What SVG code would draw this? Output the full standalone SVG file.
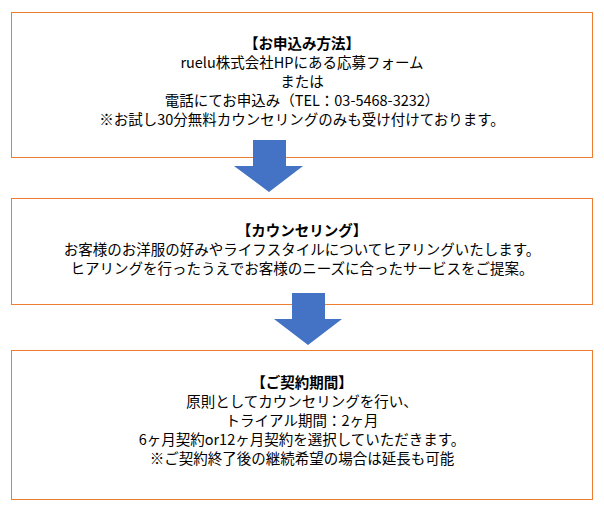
<svg xmlns="http://www.w3.org/2000/svg" width="604" height="518" viewBox="0 0 604 518">
<style>
.box{fill:#fff;stroke:#ED7D31;stroke-width:1}
.arr{fill:#4472C4}
text{font-family:"Noto Sans CJK JP","Noto Sans",sans-serif;font-size:14.5px;text-anchor:middle;fill:#000}
.b{font-weight:bold}
</style>
<g id="n1"><rect class="box" x="11.5" y="12.5" width="581" height="145"/>
<text x="302" y="49" class="b">【お申込み方法】</text>
<text x="302" y="68">ruelu株式会社HPにある応募フォーム</text>
<text x="302" y="87">または</text>
<text x="302" y="106">電話にてお申込み（TEL：03-5468-3232）</text>
<text x="302" y="125">※お試し30分無料カウンセリングのみも受け付けております。</text></g>
<g id="n2"><rect class="box" x="11.5" y="198.5" width="581" height="106"/>
<text x="302" y="236" class="b">【カウンセリング】</text>
<text x="302" y="255">お客様のお洋服の好みやライフスタイルについてヒアリングいたします。</text>
<text x="302" y="274">ヒアリングを行ったうえでお客様のニーズに合ったサービスをご提案。</text></g>
<g id="n3"><rect class="box" x="11.5" y="350.5" width="581" height="149"/>
<text x="302" y="388" class="b">【ご契約期間】</text>
<text x="302" y="407">原則としてカウンセリングを行い、</text>
<text x="302" y="426">トライアル期間：2ヶ月</text>
<text x="302" y="445">6ヶ月契約or12ヶ月契約を選択していただきます。</text>
<text x="302" y="464">※ご契約終了後の継続希望の場合は延長も可能</text></g>
<g id="connectors">
<polygon class="arr" points="253,140 286,140 286,166 303,166 269,192 234,166 253,166"/>
<polygon class="arr" points="292,293 325,293 325,319 342,319 308,345 274,319 292,319"/>
</g>
</svg>
